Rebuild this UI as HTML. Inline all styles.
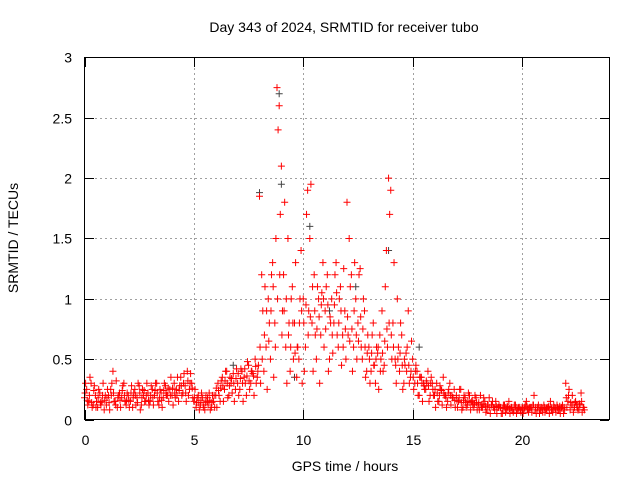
<!DOCTYPE html>
<html><head><meta charset="utf-8"><style>
body{margin:0;background:#fff;width:640px;height:480px;overflow:hidden}
svg text{font-family:"Liberation Sans",sans-serif;font-size:14px;fill:#000}
</style></head><body>
<svg id="chart" width="640" height="480" xmlns="http://www.w3.org/2000/svg">
<rect width="640" height="480" fill="#fff"/>
<g id="grid"></g>
<g id="ticks"></g>
<g id="marks"></g>
<rect x="84.5" y="57.5" width="525" height="362" fill="none" stroke="#000" stroke-width="1"/>
<text x="344" y="32" text-anchor="middle">Day 343 of 2024, SRMTID for receiver tubo</text>
<text x="345" y="471" text-anchor="middle">GPS time / hours</text>
<text x="18" y="238" text-anchor="middle" transform="rotate(-90 18 238)">SRMTID / TECUs</text>
</svg>
<script>
const xTicks=[0,5,10,15,20];
const yTicks=[0,0.5,1,1.5,2,2.5,3];
const yTickLabels=["0","0.5","1","1.5","2","2.5","3"];
const seriesA=[.18,.25,.15,.3,.12,.2,.1,.22,.15,.08,
.12,.2,.25,.4,.15,.1,.22,.18,.3,.12,
.2,.15,.1,.25,.18,.28,.12,.2,.15,.22,
.15,.25,.2,.3,.12,.22,.18,.28,.2,.25,
.2,.3,.25,.15,.35,.22,.28,.4,.25,.3,
.15,.1,.2,.12,.18,.08,.15,.22,.1,.15,
.2,.3,.15,.35,.25,.4,.2,.3,.38,.25,
.3,.25,.4,.35,.2,.45,.3,.38,.5,.35,
1.85,1.2,.4,.6,1.0,.5,1.3,.8,2.75,2.6,
2.1,1.2,.6,1.5,.4,1.1,.8,.35,.5,1.4,
1.0,.6,1.9,1.5,.8,1.2,.5,1.0,.7,1.3,
.9,1.2,.5,1.0,.8,1.3,.6,1.1,.7,.9,
1.8,1.5,1.2,.6,1.0,.8,1.25,.5,.9,.4,
.6,.4,.8,.3,.55,.7,.9,.45,1.4,2.0,
1.9,.8,.5,1.0,.4,.7,.3,.55,.9,.35,
.5,.3,.4,.2,.35,.3,.25,.4,.2,.3,
.2,.3,.15,.25,.35,.2,.15,.3,.2,.25,
.2,.15,.25,.1,.18,.12,.2,.15,.1,.18,
.12,.2,.1,.15,.08,.18,.12,.1,.15,.1,
.1,.05,.12,.08,.15,.1,.06,.12,.08,.1,
.1,.08,.15,.06,.1,.12,.08,.1,.05,.1,
.12,.08,.1,.15,.06,.1,.12,.08,.1,.05,
.3,.15,.08,.2,.1,.12,.08,.22,.1];
const seriesB=[.3,.12,.35,.1,.28,.15,.25,.12,.3,.2,
.25,.08,.3,.15,.32,.2,.1,.28,.15,.22,
.1,.28,.22,.12,.3,.08,.25,.15,.3,.12,
.28,.12,.3,.15,.25,.1,.3,.2,.15,.35,
.12,.18,.35,.28,.2,.38,.15,.2,.38,.18,
.25,.18,.08,.22,.1,.2,.12,.08,.2,.1,
.1,.2,.32,.15,.4,.18,.35,.22,.15,.42,
.2,.42,.15,.3,.48,.25,.4,.2,.3,.45,
.3,.9,1.1,.25,.8,1.2,.35,1.5,2.4,1.7,
.9,1.8,.3,.8,1.0,.5,1.3,.6,1.0,.3,
.4,1.7,.9,1.95,.4,.7,1.1,.3,1.05,.6,
1.1,.4,.8,.55,1.2,.7,1.0,.45,1.25,.5,
.7,1.1,.4,1.3,.5,1.2,.6,1.0,.35,.7,
.3,.7,.45,.6,.25,.5,.4,1.1,.6,1.7,
.5,1.3,.3,.6,.8,.25,.45,.6,.3,.65,
.25,.45,.2,.35,.15,.25,.3,.15,.35,.2,
.1,.15,.28,.12,.2,.1,.25,.12,.18,.1,
.1,.25,.08,.2,.1,.22,.08,.12,.2,.08,
.08,.1,.18,.06,.12,.05,.15,.08,.05,.12,
.05,.12,.06,.1,.05,.08,.12,.05,.1,.06,
.05,.12,.08,.1,.06,.2,.05,.12,.08,.06,
.06,.1,.05,.08,.12,.06,.08,.05,.12,.08,
.1,.25,.12,.06,.15,.08,.12,.06,.08];
const seriesC=[.22,.16,.2,.14,.24,.1,.18,.14,.2,.16,
.18,.14,.2,.22,.12,.18,.16,.24,.2,.16,
.16,.22,.18,.2,.14,.22,.18,.24,.2,.16,
.2,.18,.24,.22,.18,.16,.24,.22,.26,.2,
.26,.22,.2,.24,.28,.3,.22,.32,.3,.26,
.18,.14,.14,.16,.12,.14,.18,.16,.14,.2,
.26,.24,.26,.28,.32,.3,.28,.34,.3,.34,
.38,.34,.3,.42,.36,.32,.4,.36,.44,.4,
.6,.5,.7,.9,.65,.9,1.1,.6,1.0,1.2,
.7,.9,1.0,.7,.6,.8,.55,.6,.8,.9,
.8,.95,.7,.85,1.1,.9,.75,.85,.95,1.0,
.75,.95,.85,.7,.95,1.05,.8,.9,.6,.75,
.85,.65,.75,.9,.7,.65,.85,.75,.6,.55,
.5,.55,.45,.5,.6,.4,.55,.65,.75,.8,
.7,.6,.45,.5,.55,.45,.5,.4,.45,.4,
.35,.4,.3,.35,.3,.28,.32,.28,.3,.25,
.25,.22,.2,.24,.22,.18,.22,.2,.18,.16,
.16,.18,.14,.16,.14,.15,.14,.16,.13,.14,
.14,.12,.13,.11,.12,.1,.12,.1,.11,.1,
.1,.09,.1,.11,.09,.1,.08,.1,.09,.08,
.09,.1,.11,.09,.1,.12,.1,.08,.1,.09,
.1,.09,.11,.1,.08,.09,.1,.11,.09,.1,
.18,.2,.14,.12,.14,.1,.13,.15,.1];
const stepHours=0.1;
const grayTimes=[8.0,8.9,9.0,10.3,11.2,12.4,13.9,6.8,15.3,9.6];
const grayValues=[1.88,2.7,1.95,1.6,0.9,1.1,1.4,0.45,0.6,0.35];

const X=h=>84.5+h*21.875;
const Y=v=>419.5-v*120.67;
const NS="http://www.w3.org/2000/svg";
const grid=document.getElementById('grid'),ticks=document.getElementById('ticks'),marks=document.getElementById('marks');
function line(p,x1,y1,x2,y2,st,extra){const l=document.createElementNS(NS,'line');l.setAttribute('x1',x1);l.setAttribute('y1',y1);l.setAttribute('x2',x2);l.setAttribute('y2',y2);l.setAttribute('stroke',st);if(extra)l.setAttribute('stroke-dasharray',extra);p.appendChild(l);return l;}
function txt(x,y,s,anchor){const t=document.createElementNS(NS,'text');t.setAttribute('x',x);t.setAttribute('y',y);t.setAttribute('text-anchor',anchor);t.textContent=s;ticks.appendChild(t);return t;}
xTicks.forEach(v=>{const x=Math.round(X(v))+0.5;
 if(v>0){const g=line(grid,x,58,x,419,'#a0a0a0','2,3');
 
 }
 line(ticks,x,419,x,410,'#000');line(ticks,x,58,x,67,'#000');
 const t=txt(x,445,String(v),'middle');
 
 });
yTicks.forEach((v,i)=>{const y=Math.round(Y(v))+0.5;
 if(v>0&&v<3){const g=line(grid,85,y,609,y,'#a0a0a0','2,3');
 
 }
 line(ticks,85,y,94,y,'#000');line(ticks,609,y,600,y,'#000');
 const t=txt(72,y+5,yTickLabels[i],'end');
 
 });
function plus(x,y,c){const p=document.createElementNS(NS,'path');
 p.setAttribute('d',`M${x-3.5} ${y}H${x+3.5}M${x} ${y-3.5}V${y+3.5}`);
 p.setAttribute('stroke',c);p.setAttribute('fill','none');
 
 
 marks.appendChild(p);}
grayValues.forEach((v,i)=>plus(X(grayTimes[i]),Y(v),'#444'));
seriesC.forEach((v,i)=>plus(X(i*stepHours+0.025),Y(v),'#f00'));
seriesA.forEach((v,i)=>plus(X(i*stepHours),Y(v),'#f00'));
seriesB.forEach((v,i)=>plus(X(i*stepHours+0.05),Y(v),'#f00'));
</script>
</body></html>
